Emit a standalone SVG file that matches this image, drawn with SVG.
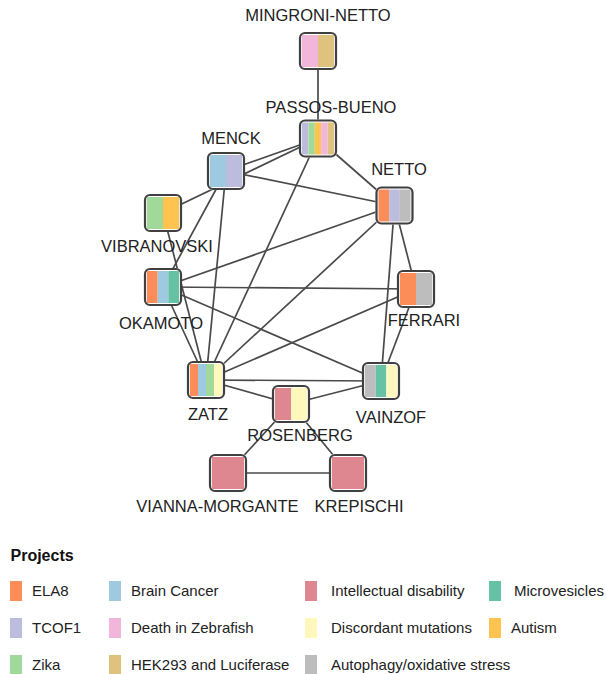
<svg xmlns="http://www.w3.org/2000/svg" width="606" height="674" viewBox="0 0 606 674">
<style>
.bg{fill:#ffffff}
.edge{stroke:#4a4a4a;stroke-width:1.7;fill:none}
.box{fill:none;stroke:#404040;stroke-width:2.2}
.inner{fill:#ffffff}
.lbl{font-family:"Liberation Sans",Arial,sans-serif;font-size:16.5px;fill:#222222;text-anchor:middle}
.leg{font-family:"Liberation Sans",Arial,sans-serif;font-size:15px;fill:#222222}
.title{font-family:"Liberation Sans",Arial,sans-serif;font-size:16px;font-weight:bold;fill:#111111}
.ela8{fill:#fc8d59}.brain{fill:#9ecae1}.intel{fill:#de8790}.micro{fill:#66c2a5}
.tcof{fill:#bcbddc}.zebra{fill:#f1b6da}.disc{fill:#fff7bc}.autism{fill:#fec44f}
.zika{fill:#a1d99b}.hek{fill:#dfc27d}.auto{fill:#bdbdbd}
</style>
<rect class="bg" x="0" y="0" width="606" height="674"/>
<g id="edges">
<line class="edge" x1="318" y1="51" x2="318" y2="138.5"/>
<line class="edge" x1="318" y1="138.5" x2="226" y2="171"/>
<line class="edge" x1="318" y1="138.5" x2="163" y2="213"/>
<line class="edge" x1="318" y1="138.5" x2="394.5" y2="205.5"/>
<line class="edge" x1="318" y1="138.5" x2="206" y2="380"/>
<line class="edge" x1="226" y1="171" x2="394.5" y2="205.5"/>
<line class="edge" x1="226" y1="171" x2="163" y2="287"/>
<line class="edge" x1="226" y1="171" x2="206" y2="380"/>
<line class="edge" x1="163" y1="213" x2="206" y2="380"/>
<line class="edge" x1="394.5" y1="205.5" x2="163" y2="287"/>
<line class="edge" x1="394.5" y1="205.5" x2="206" y2="380"/>
<line class="edge" x1="394.5" y1="205.5" x2="416" y2="289"/>
<line class="edge" x1="394.5" y1="205.5" x2="381" y2="381"/>
<line class="edge" x1="163" y1="287" x2="416" y2="289"/>
<line class="edge" x1="163" y1="287" x2="381" y2="381"/>
<line class="edge" x1="163" y1="287" x2="206" y2="380"/>
<line class="edge" x1="416" y1="289" x2="206" y2="380"/>
<line class="edge" x1="416" y1="289" x2="381" y2="381"/>
<line class="edge" x1="206" y1="380" x2="381" y2="381"/>
<line class="edge" x1="206" y1="380" x2="291" y2="404"/>
<line class="edge" x1="291" y1="404" x2="381" y2="381"/>
<line class="edge" x1="291" y1="404" x2="228" y2="473"/>
<line class="edge" x1="291" y1="404" x2="348" y2="473"/>
<line class="edge" x1="228" y1="473" x2="348" y2="473"/>
</g>
<g id="node-mingroni-netto">
<rect class="inner" x="299" y="32" width="38" height="38" rx="5"/>
<rect class="zebra" x="302" y="35" width="16" height="32"/>
<rect class="hek" x="318" y="35" width="16" height="32"/>
<rect class="box" x="300" y="33" width="36" height="36" rx="5"/>
<text class="lbl" x="318" y="21">MINGRONI-NETTO</text>
</g>
<g id="node-passos-bueno">
<rect class="inner" x="299" y="119.5" width="38" height="38" rx="5"/>
<rect class="tcof" x="302" y="122.5" width="6.4" height="32"/>
<rect class="zika" x="308.4" y="122.5" width="6.4" height="32"/>
<rect class="autism" x="314.8" y="122.5" width="6.4" height="32"/>
<rect class="zebra" x="321.2" y="122.5" width="6.4" height="32"/>
<rect class="hek" x="327.6" y="122.5" width="6.4" height="32"/>
<rect class="box" x="300" y="120.5" width="36" height="36" rx="5"/>
<text class="lbl" x="331" y="112.5">PASSOS-BUENO</text>
</g>
<g id="node-menck">
<rect class="inner" x="207" y="152" width="38" height="38" rx="5"/>
<rect class="brain" x="210" y="155" width="16" height="32"/>
<rect class="tcof" x="226" y="155" width="16" height="32"/>
<rect class="box" x="208" y="153" width="36" height="36" rx="5"/>
<text class="lbl" x="231" y="144">MENCK</text>
</g>
<g id="node-netto">
<rect class="inner" x="375.5" y="186.5" width="38" height="38" rx="5"/>
<rect class="ela8" x="378.5" y="189.5" width="10.67" height="32"/>
<rect class="tcof" x="389.17" y="189.5" width="10.67" height="32"/>
<rect class="auto" x="399.83" y="189.5" width="10.67" height="32"/>
<rect class="box" x="376.5" y="187.5" width="36" height="36" rx="5"/>
<text class="lbl" x="399" y="175">NETTO</text>
</g>
<g id="node-vibranovski">
<rect class="inner" x="144" y="194" width="38" height="38" rx="5"/>
<rect class="zika" x="147" y="197" width="16" height="32"/>
<rect class="autism" x="163" y="197" width="16" height="32"/>
<rect class="box" x="145" y="195" width="36" height="36" rx="5"/>
<text class="lbl" x="157" y="252">VIBRANOVSKI</text>
</g>
<g id="node-okamoto">
<rect class="inner" x="144" y="268" width="38" height="38" rx="5"/>
<rect class="ela8" x="147" y="271" width="10.67" height="32"/>
<rect class="brain" x="157.67" y="271" width="10.67" height="32"/>
<rect class="micro" x="168.33" y="271" width="10.67" height="32"/>
<rect class="box" x="145" y="269" width="36" height="36" rx="5"/>
<text class="lbl" x="161" y="329">OKAMOTO</text>
</g>
<g id="node-ferrari">
<rect class="inner" x="397" y="270" width="38" height="38" rx="5"/>
<rect class="ela8" x="400" y="273" width="16" height="32"/>
<rect class="auto" x="416" y="273" width="16" height="32"/>
<rect class="box" x="398" y="271" width="36" height="36" rx="5"/>
<text class="lbl" x="424" y="326">FERRARI</text>
</g>
<g id="node-zatz">
<rect class="inner" x="187" y="361" width="38" height="38" rx="5"/>
<rect class="ela8" x="190" y="364" width="8" height="32"/>
<rect class="brain" x="198" y="364" width="8" height="32"/>
<rect class="zika" x="206" y="364" width="8" height="32"/>
<rect class="disc" x="214" y="364" width="8" height="32"/>
<rect class="box" x="188" y="362" width="36" height="36" rx="5"/>
<text class="lbl" x="208" y="420">ZATZ</text>
</g>
<g id="node-vainzof">
<rect class="inner" x="362" y="362" width="38" height="38" rx="5"/>
<rect class="auto" x="365" y="365" width="10.67" height="32"/>
<rect class="micro" x="375.67" y="365" width="10.67" height="32"/>
<rect class="disc" x="386.33" y="365" width="10.67" height="32"/>
<rect class="box" x="363" y="363" width="36" height="36" rx="5"/>
<text class="lbl" x="391" y="423">VAINZOF</text>
</g>
<g id="node-rosenberg">
<rect class="inner" x="272" y="385" width="38" height="38" rx="5"/>
<rect class="intel" x="275" y="388" width="16" height="32"/>
<rect class="disc" x="291" y="388" width="16" height="32"/>
<rect class="box" x="273" y="386" width="36" height="36" rx="5"/>
<text class="lbl" x="300" y="441">ROSENBERG</text>
</g>
<g id="node-vianna-morgante">
<rect class="inner" x="209" y="454" width="38" height="38" rx="5"/>
<rect class="intel" x="212" y="457" width="32" height="32"/>
<rect class="box" x="210" y="455" width="36" height="36" rx="5"/>
<text class="lbl" x="217.5" y="512">VIANNA-MORGANTE</text>
</g>
<g id="node-krepischi">
<rect class="inner" x="329" y="454" width="38" height="38" rx="5"/>
<rect class="intel" x="332" y="457" width="32" height="32"/>
<rect class="box" x="330" y="455" width="36" height="36" rx="5"/>
<text class="lbl" x="359" y="512">KREPISCHI</text>
</g>
<g id="legend">
<text class="title" x="10.5" y="561">Projects</text>
<rect class="ela8" x="10" y="581" width="12" height="20"/>
<text class="leg" x="32" y="596">ELA8</text>
<rect class="tcof" x="10" y="618" width="12" height="20"/>
<text class="leg" x="32" y="633">TCOF1</text>
<rect class="zika" x="10" y="655" width="12" height="20"/>
<text class="leg" x="32" y="670">Zika</text>
<rect class="brain" x="109" y="581" width="12" height="20"/>
<text class="leg" x="131" y="596">Brain Cancer</text>
<rect class="zebra" x="109" y="618" width="12" height="20"/>
<text class="leg" x="131" y="633">Death in Zebrafish</text>
<rect class="hek" x="109" y="655" width="12" height="20"/>
<text class="leg" x="131" y="670">HEK293 and Luciferase</text>
<rect class="intel" x="305" y="581" width="12" height="20"/>
<text class="leg" x="331" y="596">Intellectual disability</text>
<rect class="disc" x="305" y="618" width="12" height="20"/>
<text class="leg" x="331" y="633">Discordant mutations</text>
<rect class="auto" x="305" y="655" width="12" height="20"/>
<text class="leg" x="331" y="670">Autophagy/oxidative stress</text>
<rect class="micro" x="489" y="581" width="12" height="20"/>
<text class="leg" x="514" y="596">Microvesicles</text>
<rect class="autism" x="489" y="618" width="12" height="20"/>
<text class="leg" x="511" y="633">Autism</text>
</g>
</svg>
